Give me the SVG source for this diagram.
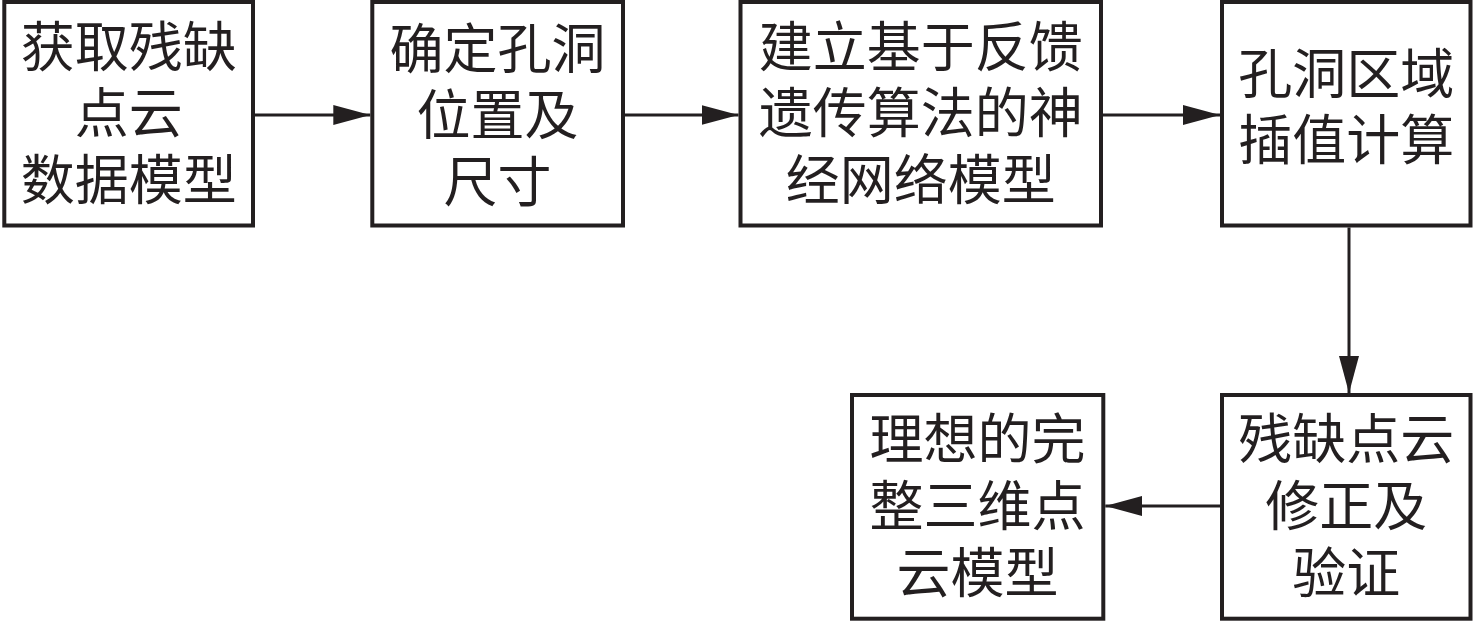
<svg xmlns="http://www.w3.org/2000/svg" width="1476" height="622" viewBox="0 0 1476 622">
  <style>
    .box { fill: #ffffff; stroke: #231f20; stroke-width: 4; }
    .lbl { font-family: "Liberation Serif", "Noto Sans CJK SC", serif; font-size: 54px; fill: #231f20; text-anchor: middle; }
    .conn { stroke: #231f20; stroke-width: 3; fill: none; marker-end: url(#arrow); }
  </style>
  <defs>
    <marker id="arrow" markerUnits="userSpaceOnUse" markerWidth="38" markerHeight="20" refX="37" refY="10" orient="auto">
      <path d="M0,0 L37,10 L0,20 Z" fill="#231f20"/>
    </marker>
  </defs>
  <rect width="1476" height="622" fill="#ffffff"/>

  <g id="node1">
    <rect class="box" x="4.3" y="2" width="248.7" height="223.5"/>
    <text class="lbl" x="128.7" y="67">获取残缺</text>
    <text class="lbl" x="128.7" y="133">点云</text>
    <text class="lbl" x="128.7" y="200">数据模型</text>
  </g>
  <g id="node2">
    <rect class="box" x="372.3" y="2" width="250.7" height="223.5"/>
    <text class="lbl" x="497.6" y="69">确定孔洞</text>
    <text class="lbl" x="497.6" y="135">位置及</text>
    <text class="lbl" x="497.6" y="202">尺寸</text>
  </g>
  <g id="node3">
    <rect class="box" x="740.5" y="2" width="360.5" height="223.5"/>
    <text class="lbl" x="920.8" y="67">建立基于反馈</text>
    <text class="lbl" x="920.8" y="133">遗传算法的神</text>
    <text class="lbl" x="920.8" y="200">经网络模型</text>
  </g>
  <g id="node4">
    <rect class="box" x="1222" y="2" width="248.5" height="223.5"/>
    <text class="lbl" x="1346.2" y="94">孔洞区域</text>
    <text class="lbl" x="1346.2" y="160">插值计算</text>
  </g>
  <g id="node5">
    <rect class="box" x="1222" y="395" width="248.5" height="223.7"/>
    <text class="lbl" x="1346.2" y="459">残缺点云</text>
    <text class="lbl" x="1346.2" y="526">修正及</text>
    <text class="lbl" x="1346.2" y="593">验证</text>
  </g>
  <g id="node6">
    <rect class="box" x="852" y="395" width="251.3" height="223.7"/>
    <text class="lbl" x="977.6" y="459">理想的完</text>
    <text class="lbl" x="977.6" y="526">整三维点</text>
    <text class="lbl" x="977.6" y="593">云模型</text>
  </g>

  <g id="connectors">
    <line class="conn" x1="255" y1="115" x2="370.3" y2="115"/>
    <line class="conn" x1="625" y1="115" x2="738.5" y2="115"/>
    <line class="conn" x1="1103" y1="115" x2="1220" y2="115"/>
    <line class="conn" x1="1349" y1="227.5" x2="1349" y2="393"/>
    <line class="conn" x1="1220" y1="506" x2="1105.3" y2="506"/>
  </g>
</svg>
